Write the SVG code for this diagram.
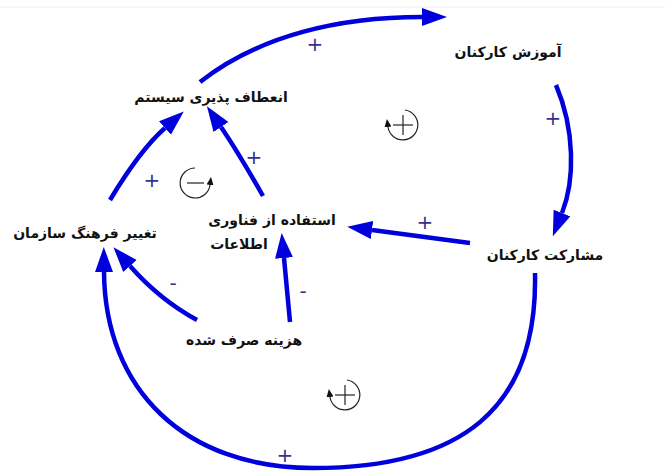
<svg xmlns="http://www.w3.org/2000/svg" width="665" height="471" viewBox="0 0 665 471">
<defs>
<marker id="ah" markerUnits="userSpaceOnUse" markerWidth="30" markerHeight="22" refX="0" refY="9" orient="auto">
<path d="M0,0 L25,9 L0,18 Z" fill="#0000DD"/>
</marker>
<marker id="sah" markerUnits="userSpaceOnUse" markerWidth="8" markerHeight="10" refX="0" refY="3.5" orient="auto">
<path d="M0,0 L8,3.5 L0,7 Z" fill="#111"/>
</marker>
<style>
.node{font-family:"DejaVu Sans",sans-serif;font-weight:bold;font-size:14px;fill:#111;text-anchor:middle}
.c{fill:none;stroke:#0000DD;stroke-width:4.5;marker-end:url(#ah)}
.pol{font-family:"DejaVu Sans",sans-serif;font-size:20px;fill:#33338a;text-anchor:middle}
.loop{fill:none;stroke:#222;stroke-width:1.2}
</style>
</defs>
<rect width="665" height="471" fill="#fff"/>
<line x1="0" y1="7" x2="665" y2="7" stroke="#eee" stroke-width="1"/>
<g id="connectors">
<path class="c" d="M200 82 C260 35 340 17 422 17"/>
<path class="c" d="M556 85 C575 130 575 180 562 213"/>
<path class="c" d="M470 243 L372 230"/>
<path class="c" d="M263 196 Q238 152 221 127"/>
<path class="c" d="M110 200 Q140 150 165 128"/>
<path class="c" d="M197 320 Q160 300 130 266"/>
<path class="c" d="M290 322 L284 258"/>
<path class="c" d="M535 273 C538 410 460 468 313 468 C185 468 105 390 104 272"/>
<text class="pol" x="315" y="51">+</text>
<text class="pol" x="553" y="125">+</text>
<text class="pol" x="425" y="229">+</text>
<text class="pol" x="254" y="164">+</text>
<text class="pol" x="152" y="187">+</text>
<text class="pol" x="173" y="290">-</text>
<text class="pol" x="303" y="298">-</text>
<text class="pol" x="285" y="462">+</text>
</g>
<g id="n1"><text class="node" x="211" y="102">انعطاف پذیری سیستم</text></g>
<g id="n2"><text class="node" x="508" y="57">آموزش کارکنان</text></g>
<g id="n3"><text class="node" x="85" y="238">تغییر فرهنگ سازمان</text></g>
<g id="n4"><text class="node" x="272" y="225">استفاده از فناوری</text><text class="node" x="239" y="249">اطلاعات</text></g>
<g id="n5"><text class="node" x="545" y="260">مشارکت کارکنان</text></g>
<g id="n6"><text class="node" x="244" y="345">هزینه صرف شده</text></g>
<g id="loop1">
<path class="loop" d="M195 168 A15 15 0 1 0 210 185" marker-end="url(#sah)"/>
<line class="loop" x1="187" y1="183" x2="204" y2="183" stroke-width="1.6"/>
</g>
<g id="loop2">
<path class="loop" d="M405 110 A15 15 0 1 1 388 127" marker-end="url(#sah)"/>
<line class="loop" x1="393" y1="125" x2="413" y2="125" stroke-width="1.6"/>
<line class="loop" x1="403" y1="115" x2="403" y2="135" stroke-width="1.6"/>
</g>
<g id="loop3">
<path class="loop" d="M347 380 A15 15 0 1 1 330 397" marker-end="url(#sah)"/>
<line class="loop" x1="335" y1="395" x2="355" y2="395" stroke-width="1.6"/>
<line class="loop" x1="345" y1="385" x2="345" y2="405" stroke-width="1.6"/>
</g>
</svg>
